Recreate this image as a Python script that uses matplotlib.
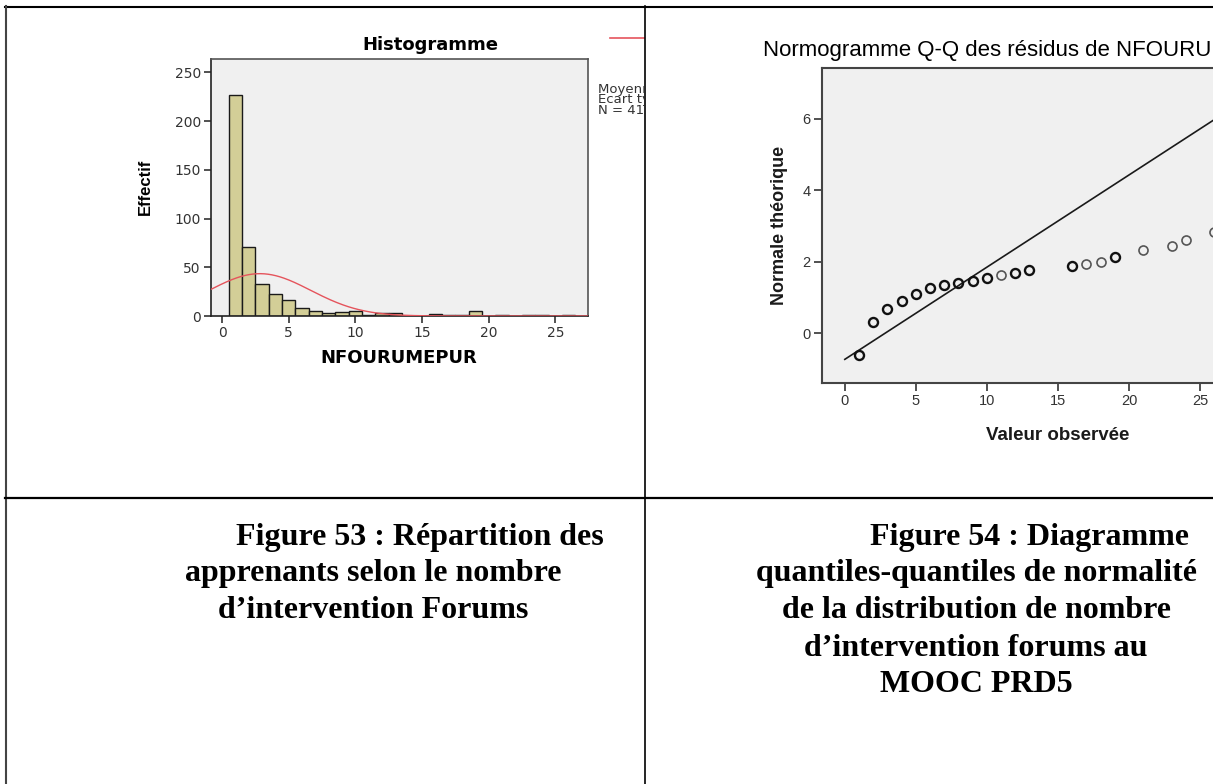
import numpy as np
import matplotlib
from matplotlib import pyplot as plt
from matplotlib.lines import Line2D
from matplotlib.transforms import Bbox, TransformedBbox

matplotlib.use("Agg")

W, H = 1213, 784

# histogram: NFOURUMEPUR
hist_values = [1, 2, 3, 4, 5, 6, 7, 8, 9, 10, 11, 12, 13,
               14, 15, 16, 17, 18, 19, 20, 21, 22, 23, 24, 25, 26]
hist_counts = [227, 71, 33, 23, 16, 8, 5, 3, 4, 5, 1, 3, 3,
               0, 0, 2, 1, 1, 5, 0, 1, 0, 1, 1, 0, 1]
hist_yticks = [0, 50, 100, 150, 200, 250]
hist_xticks = [0, 5, 10, 15, 20, 25]
legend_lines = ["Moyenne = 2,78", "Ecart type = 3,766", "N = 413"]

# Q-Q plot
qq_x = [1, 2, 3, 4, 5, 6, 7, 8, 9, 10, 11, 12, 13, 16, 17, 18, 19, 21, 23, 24, 26]
qq_y = [-0.60, 0.32, 0.67, 0.91, 1.10, 1.26, 1.34, 1.41, 1.47, 1.55, 1.62,
        1.68, 1.78, 1.88, 1.94, 1.98, 2.13, 2.34, 2.45, 2.60, 2.83]
qq_dark = [1, 1, 1, 1, 1, 1, 1, 1, 1, 1, 0, 1, 1, 1, 0, 0, 1, 0, 0, 0, 0]
qq_line_x = [0, 28.5]
qq_line_y = [-0.73, 6.62]
qq_yticks = [0, 2, 4, 6]
qq_xticks = [0, 5, 10, 15, 20, 25]

caption_left = ["Figure 53 : Répartition des",
                "apprenants selon le nombre",
                "d\u2019intervention Forums"]
caption_right = ["Figure 54 : Diagramme",
                 "quantiles-quantiles de normalité",
                 "de la distribution de nombre",
                 "d\u2019intervention forums au",
                 "MOOC PRD5"]


def fx(x):
    return x / W


def fy(y):
    return 1 - y / H


def box(l, t, r, b):
    return [fx(l), fy(b), fx(r) - fx(l), fy(t) - fy(b)]


fig = plt.figure(figsize=(W / 100, H / 100), dpi=100)
fig.patch.set_facecolor("white")

# ---------------- histogram ----------------
ax1 = fig.add_axes(box(210.5, 59.3, 587.5, 316))
ax1.set_facecolor("#F0F0F0")
ax1.bar(hist_values, hist_counts, width=1.0, color="#D3CE97",
        edgecolor="#1a1a1a", linewidth=1.0, zorder=2)
counts = np.array(hist_counts)
vals = np.array(hist_values)
n = counts.sum()
mu = (counts * vals).sum() / n
sd = np.sqrt((counts * (vals - mu) ** 2).sum() / (n - 1))
xs = np.linspace(-1, 28, 300)
ax1.plot(xs, n * np.exp(-0.5 * ((xs - mu) / sd) ** 2) / (sd * np.sqrt(2 * np.pi)),
         color="#E5545C", lw=1.0, zorder=3)
ax1.set_xlim(-0.87, 27.4)
ax1.set_ylim(0, 263.5)
ax1.set_xticks(hist_xticks)
ax1.set_yticks(hist_yticks)
ax1.tick_params(length=5, width=1.2, color="#333333", labelsize=10,
                labelcolor="#333333", pad=2)
for s in ax1.spines.values():
    s.set_color("#555555")
    s.set_linewidth(1.2)
ax1.spines["left"].set_color("#222222")
ax1.spines["bottom"].set_color("#222222")

fig.text(fx(430), fy(45), "Histogramme", ha="center", va="center",
         fontsize=13, fontweight="bold", family="DejaVu Sans")
fig.text(fx(399), fy(357.7), "NFOURUMEPUR", ha="center", va="center",
         fontsize=13, fontweight="bold", family="DejaVu Sans")
fig.text(fx(145), fy(186.7), "Effectif", ha="center", va="center",
         rotation=90, fontsize=12, fontweight="bold", family="Liberation Sans")

# legend of the histogram, cut by the table cell
clip = TransformedBbox(Bbox([[0, 0], [fx(644), 1]]), fig.transFigure)
fig.add_artist(Line2D([fx(610), fx(644)], [fy(38.3), fy(38.3)],
                      color="#E5545C", lw=1.2, transform=fig.transFigure))
for i, t in enumerate(legend_lines):
    txt = fig.text(fx(598.3), fy(89 + i * 10.7), t, ha="left", va="center",
                   fontsize=9.5, color="#333333", family="DejaVu Sans")
    txt.set_clip_box(clip)
    txt.set_clip_on(True)

# ---------------- Q-Q plot ----------------
x_left, x0px, xscale = -1.64, 845, 14.2
ax2 = fig.add_axes(box(821.5, 67.7, x0px + 28.5 * xscale, 383.3))
ax2.set_facecolor("#F0F0F0")
ax2.plot(qq_line_x, qq_line_y, color="#1a1a1a", lw=1.2, zorder=2)
for xv, yv, d in zip(qq_x, qq_y, qq_dark):
    ax2.plot(xv, yv, "o", ms=6.5, mfc="none",
             mec="#111111" if d else "#555555", mew=1.7 if d else 1.2, zorder=3)
ax2.set_xlim(x_left, 28.5)
ax2.set_ylim(-1.40, 7.43)
ax2.set_xticks(qq_xticks)
ax2.set_yticks(qq_yticks)
ax2.tick_params(length=6, width=1.2, color="#333333", labelsize=10.5,
                labelcolor="#333333", pad=2)
for lbl in ax2.get_xticklabels() + ax2.get_yticklabels():
    lbl.set_family("Liberation Sans")
for s in ax2.spines.values():
    s.set_color("#444444")
    s.set_linewidth(1.5)

fig.text(fx(762.7), fy(50.7), "Normogramme Q-Q des résidus de NFOURUMEPUR",
         ha="left", va="center", fontsize=16, family="Liberation Sans")
fig.text(fx(779.7), fy(225.6), "Normale théorique", ha="center", va="center",
         rotation=90, fontsize=13, fontweight="bold", family="Liberation Sans",
         color="#1a1a1a")
fig.text(fx(1058), fy(435), "Valeur observée", ha="center", va="center",
         fontsize=13.5, fontweight="bold", family="Liberation Sans", color="#1a1a1a")

# ---------------- captions ----------------
for i, t in enumerate(caption_left):
    cx = 420 if i == 0 else 373
    fig.text(fx(cx), fy(537 + i * 37), t, ha="center", va="center",
             fontsize=23, fontweight="bold", family="Liberation Serif")
for i, t in enumerate(caption_right):
    cx = 1029 if i == 0 else 976
    fig.text(fx(cx), fy(537 + i * 37), t, ha="center", va="center",
             fontsize=23, fontweight="bold", family="Liberation Serif")

# ---------------- table borders ----------------
borders = [
    ([5, 1213], [6.7, 6.7], "black", 1.5),
    ([5.5, 5.5], [6, 784], "#444444", 1.5),
    ([645, 645], [6, 784], "black", 1.2),
    ([5, 1213], [497.7, 497.7], "black", 1.6),
]
for xsb, ysb, c, lw in borders:
    fig.add_artist(Line2D([fx(v) for v in xsb], [fy(v) for v in ysb],
                          color=c, lw=lw, transform=fig.transFigure, zorder=10))

fig.savefig("out.png", dpi=100)
plt.close(fig)
